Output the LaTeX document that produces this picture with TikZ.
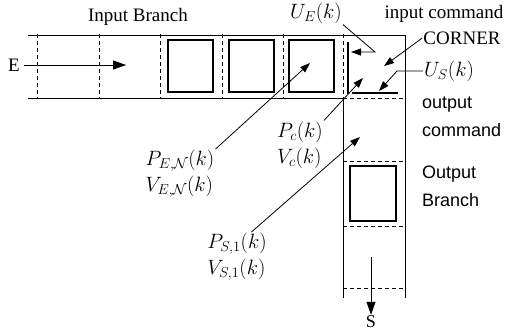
\documentclass[tikz,border=0pt]{standalone}
\usepackage{fontspec}
\setmainfont{Liberation Serif}
\setsansfont{Liberation Sans}
\usetikzlibrary{arrows.meta}

\begin{document}
\begin{tikzpicture}[x=1pt,y=-1pt,
    lane/.style={line width=0.8pt},
    cellcut/.style={line width=0.8pt,dash pattern=on 4pt off 3pt},
    cellbox/.style={line width=1.8pt},
    cmdline/.style={line width=1.3pt},
    pointer/.style={line width=0.8pt,-{Triangle[length=10pt,width=7pt]}},
    flow/.style={line width=0.8pt,-{Triangle[length=13pt,width=9pt]}},
    lbl/.style={inner sep=1pt,font=\fontsize{19}{22}\selectfont},
    sidelbl/.style={inner sep=1pt,anchor=west,align=left,font=\sffamily\fontsize{18}{28}\selectfont},
    mathlbl/.style={inner sep=1pt,align=left,font=\fontsize{22}{26}\selectfont}]
  \useasboundingbox (0,0) rectangle (515,333);
  % the two branches and the corner
  \draw[lane] (28,35) -- (405,35) -- (405,298);
  \draw[lane] (28,98) -- (343,98) -- (343,298);
  \foreach \x in {37,99,160,222,283,343} \draw[cellcut] (\x,34) -- (\x,99);
  \foreach \y in {98,161,226,288} \draw[cellcut] (343,\y) -- (405,\y);
  % vehicles
  \foreach \x in {168,229,289} \draw[cellbox] (\x,40) rectangle +(45,52);
  \draw[cellbox] (350,166) rectangle (396,221);
  % commands in the corner
  \draw[cmdline] (348,42) -- (348,94);
  \draw[cmdline] (352,93) -- (398,93);

  \node[lbl] (inBranch) at (138,17) {Input Branch};
  \node[lbl] (E) at (14,65) {E};
  \node[lbl,font=\fontsize{18}{21}\selectfont] (S) at (371,322) {S};
  \node[mathlbl] (UE) at (316,13) {$U_E(k)$};
  \node[lbl] (inCmd) at (444,14) {input command};
  \node[lbl] (corner) at (462,38) {CORNER};
  \node[mathlbl] (US) at (449,71) {$U_S(k)$};
  \node[sidelbl] (outCmd) at (421,117) {output\\command};
  \node[sidelbl] (outBranch) at (421,186) {Output\\Branch};
  \node[mathlbl] (PEN) at (180,174) {$P_{E,\mathcal{N}}(k)$\\$V_{E,\mathcal{N}}(k)$};
  \node[mathlbl] (PC) at (300,145) {$P_c(k)$\\$V_c(k)$};
  \node[mathlbl] (PS) at (237,257) {$P_{S,1}(k)$\\$V_{S,1}(k)$};

  \coordinate (eTip) at (126,65);
  \coordinate (sTail) at (371,257);
  \coordinate (ueKnee) at (375,52);
  \coordinate (ueTip) at (351,52);
  \coordinate (cornerTip) at (384,66);
  \coordinate (usKnee) at (397,71);
  \coordinate (usTip) at (379,91);
  \coordinate (penTip) at (310,63);
  \coordinate (pcTip) at (363,78);
  \coordinate (psTip) at (360,137);

  \draw[flow,shorten <=3pt] (E) -- (eTip);
  \draw[flow] (sTail) -- (S);
  \draw[pointer] (UE.south east) -- (ueKnee) -- (ueTip);
  \draw[pointer] (corner.west) -- (cornerTip);
  \draw[pointer] (US.west) -- (usKnee) -- (usTip);
  \draw[pointer] (PEN.north east) -- (penTip);
  \draw[pointer] (PC.north east) -- (pcTip);
  \draw[pointer] (PS.60) -- (psTip);
\end{tikzpicture}
\end{document}
